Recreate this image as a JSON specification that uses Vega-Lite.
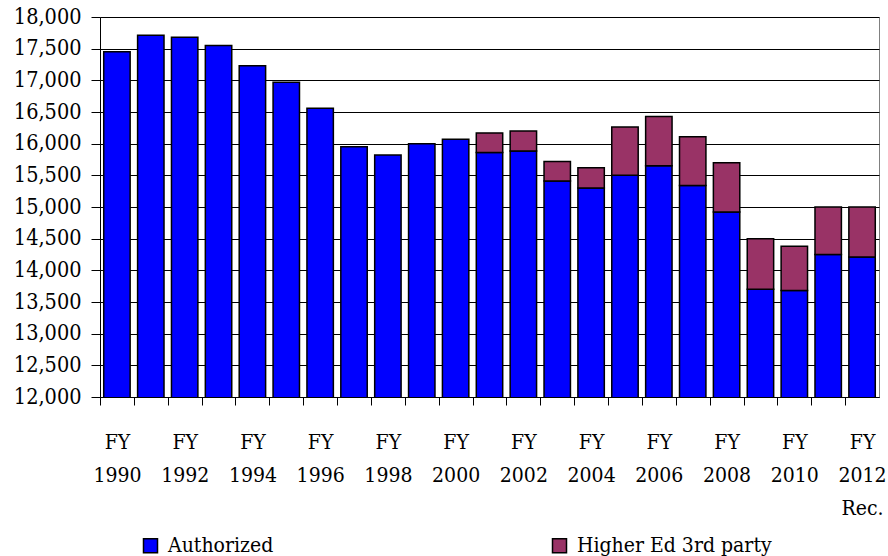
{
  "$schema": "https://vega.github.io/schema/vega-lite/v6.json",
  "width": 779,
  "height": 380,
  "autosize": {"type": "none"},
  "padding": {"left": 100, "top": 17, "right": 9, "bottom": 159},
  "background": "white",
  "config": {
    "view": {"stroke": "#808080", "strokeWidth": 1},
    "font": "DejaVu Serif Condensed, DejaVu Serif",
    "axis": {"labelFont": "DejaVu Serif Condensed, DejaVu Serif"},
    "legend": {"labelFont": "DejaVu Serif Condensed, DejaVu Serif"}
  },
  "data": {
    "values": [
      {"year": "1990", "series": "Authorized", "value": 17450},
      {"year": "1991", "series": "Authorized", "value": 17710},
      {"year": "1992", "series": "Authorized", "value": 17680},
      {"year": "1993", "series": "Authorized", "value": 17550},
      {"year": "1994", "series": "Authorized", "value": 17230},
      {"year": "1995", "series": "Authorized", "value": 16970},
      {"year": "1996", "series": "Authorized", "value": 16560},
      {"year": "1997", "series": "Authorized", "value": 15950},
      {"year": "1998", "series": "Authorized", "value": 15820},
      {"year": "1999", "series": "Authorized", "value": 16000},
      {"year": "2000", "series": "Authorized", "value": 16070},
      {"year": "2001", "series": "Authorized", "value": 15860},
      {"year": "2002", "series": "Authorized", "value": 15885},
      {"year": "2003", "series": "Authorized", "value": 15410},
      {"year": "2004", "series": "Authorized", "value": 15300},
      {"year": "2005", "series": "Authorized", "value": 15500},
      {"year": "2006", "series": "Authorized", "value": 15650},
      {"year": "2007", "series": "Authorized", "value": 15340},
      {"year": "2008", "series": "Authorized", "value": 14920},
      {"year": "2009", "series": "Authorized", "value": 13700},
      {"year": "2010", "series": "Authorized", "value": 13680},
      {"year": "2011", "series": "Authorized", "value": 14250},
      {"year": "2012", "series": "Authorized", "value": 14210},
      {"year": "2001", "series": "Higher Ed 3rd party", "value": 310},
      {"year": "2002", "series": "Higher Ed 3rd party", "value": 315},
      {"year": "2003", "series": "Higher Ed 3rd party", "value": 310},
      {"year": "2004", "series": "Higher Ed 3rd party", "value": 320},
      {"year": "2005", "series": "Higher Ed 3rd party", "value": 765},
      {"year": "2006", "series": "Higher Ed 3rd party", "value": 780},
      {"year": "2007", "series": "Higher Ed 3rd party", "value": 770},
      {"year": "2008", "series": "Higher Ed 3rd party", "value": 780},
      {"year": "2009", "series": "Higher Ed 3rd party", "value": 800},
      {"year": "2010", "series": "Higher Ed 3rd party", "value": 700},
      {"year": "2011", "series": "Higher Ed 3rd party", "value": 750},
      {"year": "2012", "series": "Higher Ed 3rd party", "value": 790}
    ]
  },
  "mark": {"type": "bar", "stroke": "black", "strokeWidth": 1.5, "clip": true},
  "encoding": {
    "x": {
      "field": "year",
      "type": "ordinal",
      "sort": "ascending",
      "scale": {"paddingInner": 0.22, "paddingOuter": 0.11},
      "axis": {
        "title": null,
        "labelAngle": 0,
        "labelExpr": "(+datum.value) % 2 == 0 ? (datum.value == '2012' ? ['FY', '2012', 'Rec.'] : ['FY', datum.value]) : ''",
        "labelFont": "DejaVu Serif Condensed, DejaVu Serif",
        "labelFontSize": 21,
        "labelColor": "black",
        "labelLineHeight": 33,
        "labelBaseline": "alphabetic",
        "labelPadding": 43,
        "labelOverlap": false,
        "labelLimit": 0,
        "tickSize": 8,
        "tickColor": "black",
        "tickWidth": 1,
        "tickOffset": -16.93,
        "labelOffset": 16.93,
        "domainColor": "black",
        "domainWidth": 1,
        "grid": false
      }
    },
    "y": {
      "field": "value",
      "type": "quantitative",
      "aggregate": "sum",
      "stack": "zero",
      "scale": {"domain": [12000, 18000], "nice": false, "zero": false},
      "axis": {
        "title": null,
        "values": [12000, 12500, 13000, 13500, 14000, 14500, 15000, 15500, 16000, 16500, 17000, 17500, 18000],
        "labelExpr": "format(datum.value, ',.0f')",
        "labelFont": "DejaVu Serif Condensed, DejaVu Serif",
        "labelFontSize": 21.5,
        "labelColor": "black",
        "labelPadding": 10,
        "tickSize": 9,
        "tickColor": "black",
        "domainColor": "black",
        "grid": true,
        "gridColor": "black",
        "gridWidth": 1
      }
    },
    "color": {
      "field": "series",
      "type": "nominal",
      "scale": {"domain": ["Authorized", "Higher Ed 3rd party"], "range": ["#0000FF", "#993366"]},
      "legend": {
        "title": null,
        "orient": "none",
        "legendX": 40,
        "legendY": 518,
        "direction": "horizontal",
        "symbolType": "square",
        "symbolSize": 196,
        "symbolStrokeColor": "black",
        "symbolStrokeWidth": 1.5,
        "symbolOpacity": 1,
        "labelFont": "DejaVu Serif Condensed, DejaVu Serif",
        "labelFontSize": 21,
        "labelColor": "black",
        "labelOffset": 7,
        "labelLimit": 0,
        "columnPadding": 275
      }
    },
    "order": {"field": "series", "sort": "ascending"}
  }
}
